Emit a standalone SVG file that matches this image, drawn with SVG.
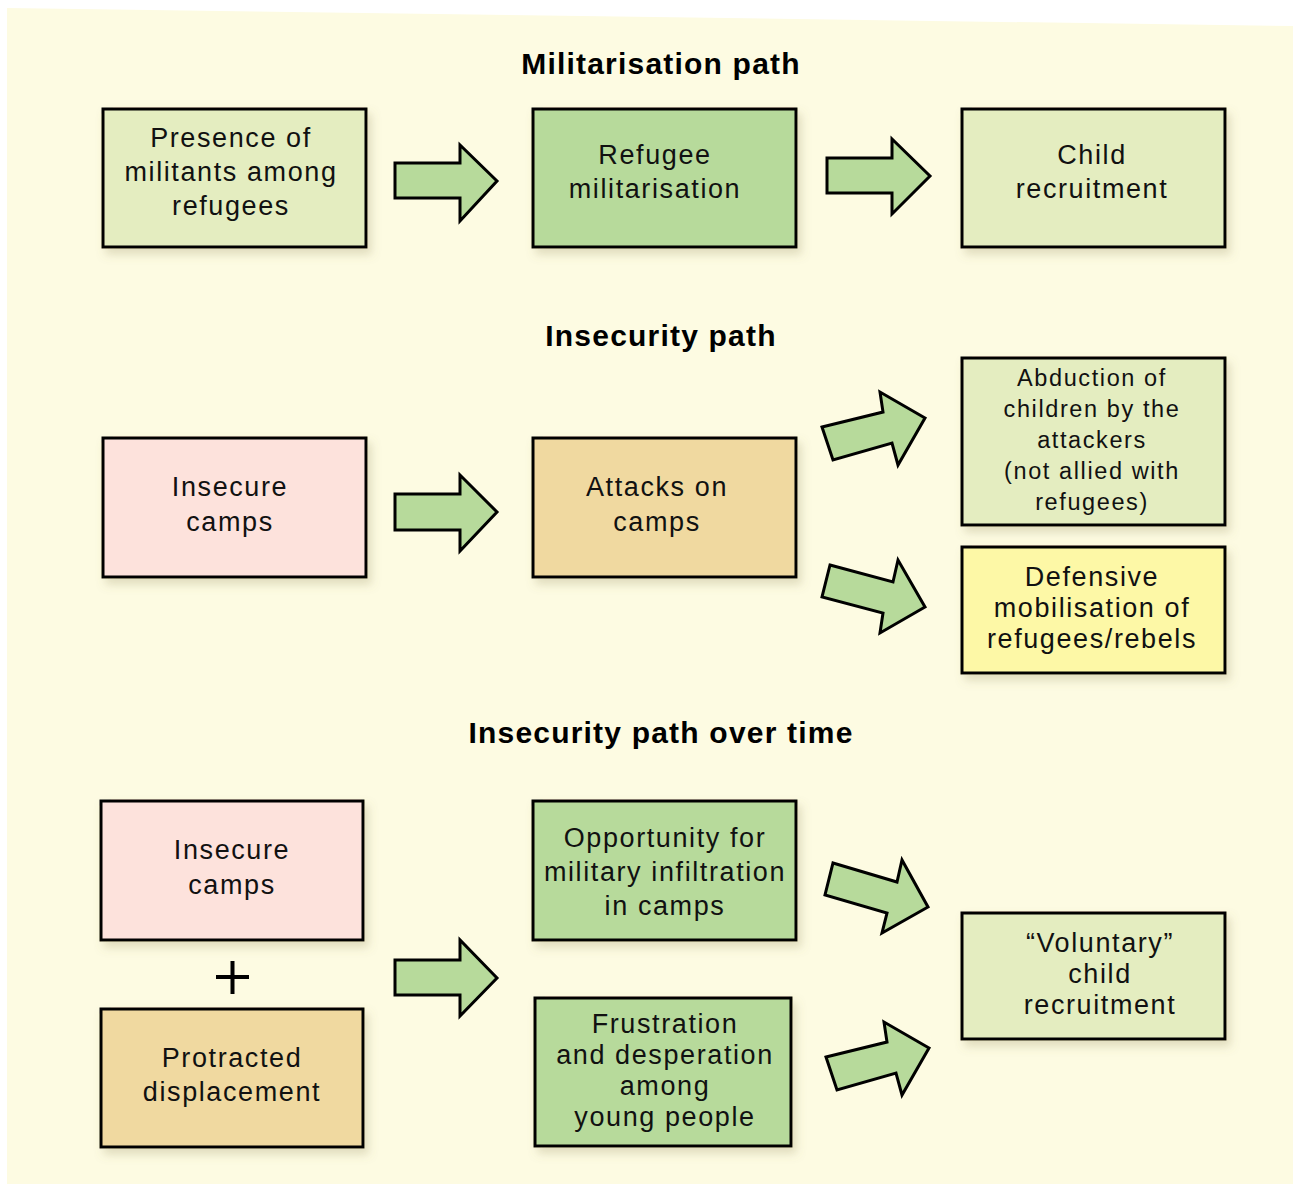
<svg xmlns="http://www.w3.org/2000/svg" width="1293" height="1184" viewBox="0 0 1293 1184">
<defs>
<filter id="sh" x="-10%" y="-10%" width="130%" height="140%">
<feDropShadow dx="4" dy="6" stdDeviation="5" flood-color="#8a8050" flood-opacity="0.25"/>
</filter>
<style>
.box{stroke:#000;stroke-width:3;filter:url(#sh)}
.lg{fill:#e4edc0}.mg{fill:#b7da9b}.pk{fill:#fde2dc}.tn{fill:#f0d9a0}.yl{fill:#fdf8a6}
.t{font-family:"Liberation Sans",Arial,sans-serif;font-size:27px;letter-spacing:1.6px;text-anchor:middle;fill:#111}
.s{font-size:23.5px;letter-spacing:1.6px}
.h{font-family:"Liberation Sans",Arial,sans-serif;font-size:30px;font-weight:bold;letter-spacing:1.2px;text-anchor:middle;fill:#000}
.ar{fill:#b7da9b;stroke:#000;stroke-width:3;stroke-linejoin:miter}
</style>
</defs>
<rect width="1293" height="1184" fill="#fff"/>
<polygon points="7,8 1293,26 1293,1184 7,1184" fill="#fdfbe2"/>

<text class="h" x="661" y="74">Militarisation path</text>
<text class="h" x="661" y="346">Insecurity path</text>
<text class="h" x="661" y="743">Insecurity path over time</text>

<g id="n1"><rect class="box lg" x="103" y="109" width="263" height="138"/>
<text class="t" x="231" y="147">Presence of</text><text class="t" x="231" y="181">militants among</text><text class="t" x="231" y="215">refugees</text></g>
<g id="n2"><rect class="box mg" x="533" y="109" width="263" height="138"/>
<text class="t" x="655" y="164">Refugee</text><text class="t" x="655" y="198">militarisation</text></g>
<g id="n3"><rect class="box lg" x="962" y="109" width="263" height="138"/>
<text class="t" x="1092" y="164">Child</text><text class="t" x="1092" y="198">recruitment</text></g>

<g id="n4"><rect class="box pk" x="103" y="438" width="263" height="139"/>
<text class="t" x="230" y="496">Insecure</text><text class="t" x="230" y="531">camps</text></g>
<g id="n5"><rect class="box tn" x="533" y="438" width="263" height="139"/>
<text class="t" x="657" y="496">Attacks on</text><text class="t" x="657" y="531">camps</text></g>
<g id="n6"><rect class="box lg" x="962" y="358" width="263" height="167"/>
<text class="t s" x="1092" y="386">Abduction of</text><text class="t s" x="1092" y="417">children by the</text><text class="t s" x="1092" y="448">attackers</text><text class="t s" x="1092" y="479">(not allied with</text><text class="t s" x="1092" y="510">refugees)</text></g>
<g id="n7"><rect class="box yl" x="962" y="547" width="263" height="126"/>
<text class="t" x="1092" y="586">Defensive</text><text class="t" x="1092" y="617">mobilisation of</text><text class="t" x="1092" y="648">refugees/rebels</text></g>

<g id="n8"><rect class="box pk" x="101" y="801" width="262" height="139"/>
<text class="t" x="232" y="859">Insecure</text><text class="t" x="232" y="894">camps</text></g>
<g id="plus"><path d="M216 977H249M232.5 961V994" stroke="#000" stroke-width="4" fill="none"/></g>
<g id="n9"><rect class="box tn" x="101" y="1009" width="262" height="138"/>
<text class="t" x="232" y="1067">Protracted</text><text class="t" x="232" y="1101">displacement</text></g>
<g id="n10"><rect class="box mg" x="533" y="801" width="263" height="139"/>
<text class="t" x="665" y="847">Opportunity for</text><text class="t" x="665" y="881">military infiltration</text><text class="t" x="665" y="915">in camps</text></g>
<g id="n11"><rect class="box mg" x="535" y="998" width="256" height="148"/>
<text class="t" x="665" y="1033">Frustration</text><text class="t" x="665" y="1064">and desperation</text><text class="t" x="665" y="1095">among</text><text class="t" x="665" y="1126">young people</text></g>
<g id="n12"><rect class="box lg" x="962" y="913" width="263" height="126"/>
<text class="t" x="1100" y="952">“Voluntary”</text><text class="t" x="1100" y="983">child</text><text class="t" x="1100" y="1014">recruitment</text></g>

<g id="connectors">
<polygon class="ar" points="395,163 460,163 460,145 497,181 460,221 460,198 395,198"/>
<polygon class="ar" points="827,158 892,158 892,139 930,176 892,214 892,193 827,193"/>
<polygon class="ar" points="395,494 460,494 460,475 497,512 460,551 460,530 395,530"/>
<polygon class="ar" points="822,427 883,412 880,392 925,418 898,465 892,443 833,460"/>
<polygon class="ar" points="830,565 893,582 898,560 925,607 880,633 883,613 822,597"/>
<polygon class="ar" points="395,960 460,960 460,940 497,978 460,1016 460,995 395,995"/>
<polygon class="ar" points="833,863 897,882 902,860 928,907 882,933 887,913 825,895"/>
<polygon class="ar" points="826,1057 887,1042 884,1022 929,1048 902,1095 896,1073 837,1090"/>
</g>
</svg>
